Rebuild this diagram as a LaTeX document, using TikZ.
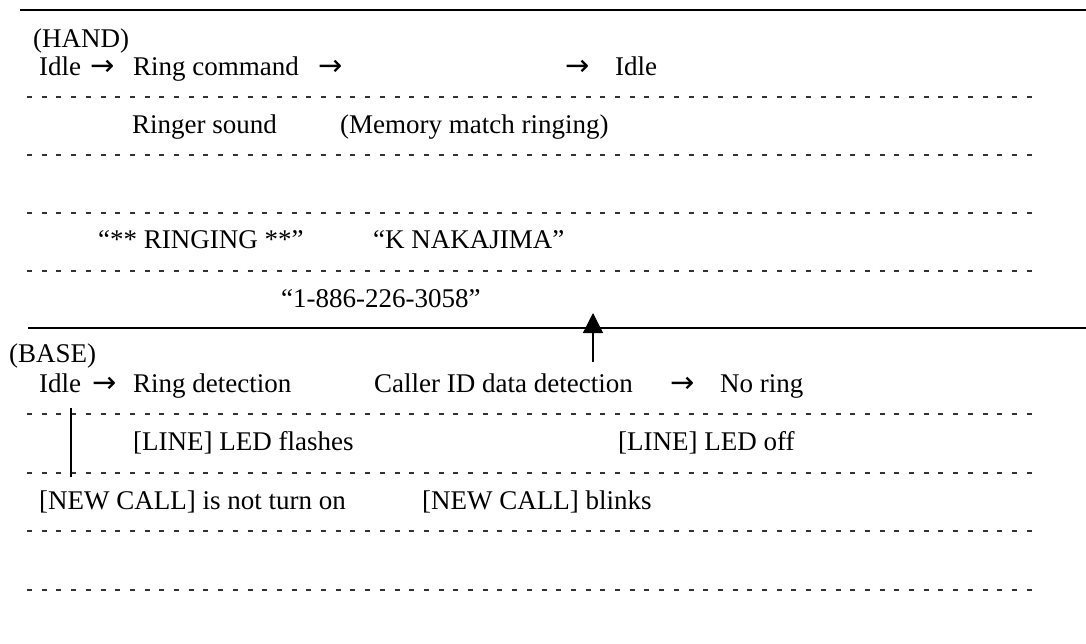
\documentclass[tikz,border=0pt]{standalone}
\usepackage{fontspec}
\setmainfont{Liberation Serif}
\newfontfamily\arrowfont{DejaVu Sans}
\usetikzlibrary{arrows.meta}

\tikzset{
  txt/.style={anchor=base west, inner sep=0pt, font=\fontsize{27}{32}\selectfont},
  arr/.style={anchor=base west, inner sep=0pt, font=\arrowfont\fontsize{29}{34}\selectfont},
  rowsep/.style={line width=1.6pt, black!80, dash pattern=on 5pt off 9.7pt},
  rule/.style={line width=1.8pt},
  link/.style={line width=1.3pt},
}

\begin{document}
\begin{tikzpicture}[x=1pt, y=-1pt]
  \useasboundingbox (0,0) rectangle (1086,643);

  % ---- handset section ----
  \draw[rule] (20,10) -- (1086,10);
  \node[txt] (hand)     at (33,47)  {(HAND)};
  \node[txt] (hidle)    at (39,75)  {Idle};
  \node[arr] (ha1)      at (90,75)  {→};
  \node[txt] (hring)    at (133,75) {Ring command};
  \node[arr] (ha2)      at (318,75) {→};
  \node[arr] (ha3)      at (565,75) {→};
  \node[txt] (hidle2)   at (615,75) {Idle};

  \node[txt] (ringer)   at (132,133) {Ringer sound};
  \node[txt] (memory)   at (340,133) {(Memory match ringing)};

  \node[txt] (ringing)  at (98,248)  {“** RINGING **”};
  \node[txt] (name)     at (373,248) {“K NAKAJIMA”};
  \node[txt] (number)   at (281,307) {“1-886-226-3058”};

  \foreach \yy in {97,155,213,271}
    \draw[rowsep] (27,\yy) -- (1034,\yy);

  % ---- base unit section ----
  \draw[rule] (28,328) -- (1086,328);
  \node[txt] (base)     at (9,362)   {(BASE)};
  \node[txt] (bidle)    at (39,392)  {Idle};
  \node[arr] (ba1)      at (92,392)  {→};
  \node[txt] (bring)    at (133,392) {Ring detection};
  \node[txt] (cid)      at (374,392) {Caller ID data detection};
  \node[arr] (ba2)      at (670,392) {→};
  \node[txt] (noring)   at (720,392) {No ring};

  \node[txt] (ledon)    at (133,450) {[LINE] LED flashes};
  \node[txt] (ledoff)   at (618,450) {[LINE] LED off};

  \node[txt] (ncoff)    at (39,509)  {[NEW CALL] is not turn on};
  \node[txt] (ncblink)  at (422,509) {[NEW CALL] blinks};

  \foreach \yy in {414,473,531,590}
    \draw[rowsep] (27,\yy) -- (1034,\yy);

  % ---- markers ----
  \coordinate (cidsrc)   at (593,362);
  \coordinate (handline) at (593,313);
  \draw[link, -{Triangle[width=20pt, length=20pt]}] (cidsrc) -- (handline);

  \coordinate (ringtop) at (71,408);
  \coordinate (ringbot) at (71,477);
  \draw[link] (ringtop) -- (ringbot);
\end{tikzpicture}
\end{document}
